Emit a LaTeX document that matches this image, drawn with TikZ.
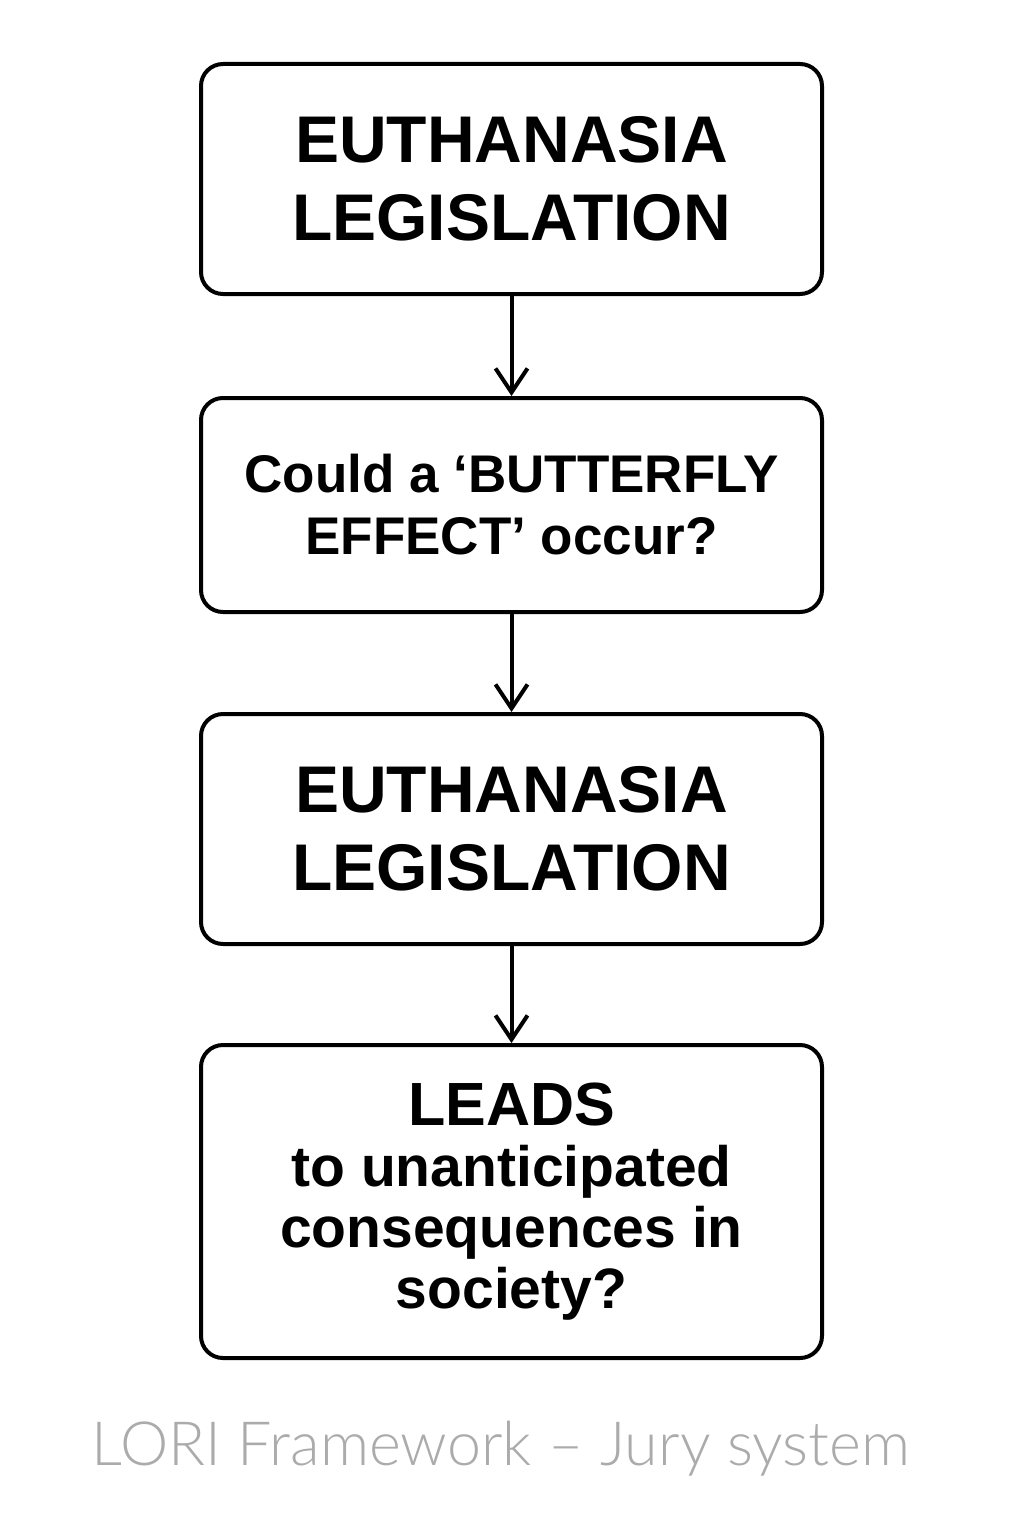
\documentclass[tikz,border=0pt]{standalone}
\usepackage{fontspec}
\setmainfont{Liberation Sans}
\newfontfamily\footfont{Lato Light}
\usetikzlibrary{arrows.meta}
\begin{document}
\begin{tikzpicture}[x=1pt,y=-1pt,
  box/.style={draw=black, line width=4pt, rounded corners=22pt, minimum width=621pt, align=center, inner sep=0pt},
  conn/.style={line width=4pt, -{Straight Barb[length=24pt,width=32pt]}}]
\useasboundingbox (0,0) rectangle (1024,1536);
\node[box, minimum height=230pt, font=\bfseries\fontsize{66}{78}\selectfont] (b1) at (511.5,179) {EUTHANASIA\\LEGISLATION};
\node[box, minimum height=214pt, font=\bfseries\fontsize{53}{62}\selectfont] (b2) at (511.5,505) {Could a ‘BUTTERFLY\\EFFECT’ occur?};
\node[box, minimum height=230pt, font=\bfseries\fontsize{66}{78}\selectfont] (b3) at (511.5,829) {EUTHANASIA\\LEGISLATION};
\node[box, minimum height=313pt, font=\bfseries\fontsize{57}{61}\selectfont] (b4) at (511.5,1201.5) {{\fontsize{61}{64}\selectfont LEADS}\\to unanticipated\\consequences in\\society?};
\draw[conn] (b1.south) -- (b2.north);
\draw[conn] (b2.south) -- (b3.north);
\draw[conn] (b3.south) -- (b4.north);
\node[anchor=base, text=black!33, font=\footfont\fontsize{61}{66}\selectfont, inner sep=0pt] (foot) at (501,1465) {LORI Framework – Jury system};
\end{tikzpicture}
\end{document}
